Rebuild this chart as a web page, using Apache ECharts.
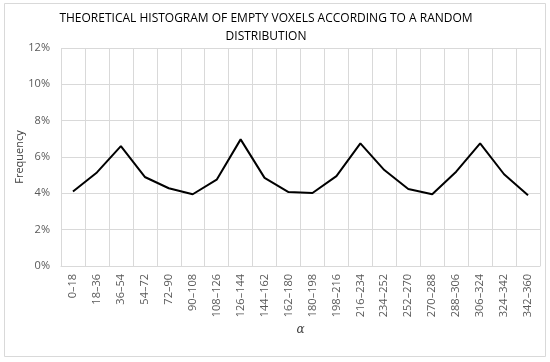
<!DOCTYPE html>
<html>
<head>
<meta charset="utf-8">
<script src="https://cdn.jsdelivr.net/npm/echarts@6/dist/echarts.min.js"></script>
<style>html,body{margin:0;padding:0;background:#fff}#c{width:550px;height:362px}</style>
</head>
<body>
<div id="c"></div>
<script>
const categories = ['0–18','18–36','36–54','54–72','72–90','90–108','108–126','126–144','144–162','162–180','180–198','198–216','216–234','234–252','252–270','270–288','288–306','306–324','324–342','342–360'];
const frequency = [4.1, 5.15, 6.6, 4.9, 4.28, 3.95, 4.75, 6.97, 4.85, 4.07, 4.02, 4.95, 6.75, 5.28, 4.24, 3.95, 5.19, 6.75, 5.05, 3.9];
const yTicks = [0, 2, 4, 6, 8, 10, 12];
const titleText = 'THEORETICAL HISTOGRAM OF EMPTY VOXELS ACCORDING TO A RANDOM\nDISTRIBUTION';

const chart = echarts.init(document.getElementById('c'));
chart.setOption({
  animation: false,
  backgroundColor: '#fff',
  graphic: [{type:'rect', shape:{x:4.5,y:3.5,width:541,height:353}, style:{fill:'none', stroke:'#d9d9d9', lineWidth:1}, silent:true}],
  title: {
    text: titleText, left: 261, top: 5, textAlign: 'center',
    textStyle: {fontFamily: 'Open Sans', fontSize: 12, fontWeight: 'normal', color: '#000', lineHeight: 18}
  },
  grid: {left: 61, right: 10, top: 48, bottom: 96},
  xAxis: {
    type: 'category', data: categories, boundaryGap: true,
    name: 'α', nameLocation: 'middle', nameGap: 58, nameMoveOverlap: false,
    nameTextStyle: {fontFamily: 'DejaVu Serif', fontStyle: 'italic', fontSize: 12, color: '#404040'},
    axisLine: {lineStyle: {color: '#d9d9d9'}},
    axisTick: {show: false},
    splitLine: {show: true, lineStyle: {color: '#d9d9d9'}},
    axisLabel: {rotate: 90, interval: 0, margin: 8, fontFamily: 'Open Sans', fontSize: 11, color: '#595959'}
  },
  yAxis: {
    type: 'value', min: yTicks[0], max: yTicks[yTicks.length-1], interval: 2,
    name: 'Frequency', nameLocation: 'middle', nameGap: 36, nameRotate: 90, nameMoveOverlap: false,
    nameTextStyle: {fontFamily: 'Open Sans', fontSize: 11, color: '#404040'},
    axisLine: {show: false}, axisTick: {show: false},
    splitLine: {lineStyle: {color: '#d9d9d9'}},
    axisLabel: {formatter: '{value}%', margin: 11, fontFamily: 'Open Sans', fontSize: 11, color: '#595959'}
  },
  series: [{
    type: 'line', data: frequency, showSymbol: false, symbol: 'none',
    lineStyle: {color: '#000', width: 2}
  }]
});
</script>
</body>
</html>
